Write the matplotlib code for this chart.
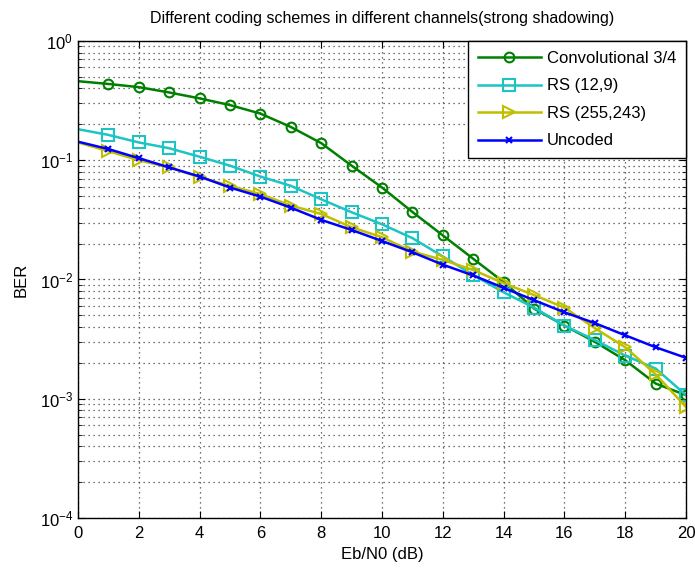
import matplotlib.pyplot as plt
import numpy as np

plt.rcParams['font.family'] = ['Liberation Sans', 'DejaVu Sans']

# Eb/N0 in dB
ebn0 = list(range(0, 21))

# BER
ber_conv = [0.46, 0.436, 0.41, 0.37, 0.33, 0.29, 0.246, 0.19, 0.139, 0.090, 0.059,
            0.0368, 0.0234, 0.0149, 0.0095, 0.0057, 0.0041, 0.0030, 0.0021, 0.00134, 0.00107]
ber_rs129 = [0.182, 0.163, 0.141, 0.126, 0.107, 0.090, 0.073, 0.061, 0.047, 0.0366, 0.029,
             0.0222, 0.0156, 0.0109, 0.0078, 0.0058, 0.0041, 0.0031, 0.0023, 0.00179, 0.00107]
ber_rs255 = [0.141, 0.119, 0.100, 0.087, 0.072, 0.061, 0.052, 0.0417, 0.0354, 0.0274, 0.0226,
             0.0171, 0.0146, 0.0120, 0.0093, 0.0074, 0.0058, 0.0039, 0.0027, 0.0016, 0.00085]
ber_uncoded = [0.143, 0.124, 0.104, 0.087, 0.073, 0.059, 0.0495, 0.040, 0.0316, 0.026, 0.021,
               0.0169, 0.0133, 0.0108, 0.0085, 0.0067, 0.0053, 0.0043, 0.0034, 0.0027, 0.0022]

labels = ['Convolutional 3/4', 'RS (12,9)', 'RS (255,243)', 'Uncoded']

fig = plt.figure(figsize=(6.95, 5.69), dpi=100)
ax = fig.add_axes([0.1122, 0.0897, 0.875, 0.8383])

skip = slice(1, None)
ax.semilogy(ebn0, ber_conv, '-o', color='#008000', lw=1.8, ms=7, mfc='none', mew=1.5,
            markevery=skip, label=labels[0])
ax.semilogy(ebn0, ber_rs129, '-s', color='#1cc4c4', lw=1.8, ms=8, mfc='none', mew=1.5,
            markevery=skip, label=labels[1])
ax.semilogy(ebn0, ber_rs255, '->', color='#bfbf00', lw=1.8, ms=8, mfc='none', mew=1.5,
            markevery=skip, label=labels[2])
ax.semilogy(ebn0, ber_uncoded, '-x', color='#0000ff', lw=1.8, ms=5, mew=1.5,
            markevery=skip, label=labels[3])

ax.set_xlim(0, 20)
ax.set_ylim(1e-4, 1)
ax.set_xticks(np.arange(0, 21, 2))
ax.tick_params(which='both', direction='in', top=True, right=True, labelsize=12)
ax.tick_params(axis='x', pad=6)
ax.tick_params(which='major', length=5)
ax.tick_params(which='minor', length=3)

dots = (0, (1, 3))
ax.grid(which='major', axis='both', linestyle=dots, color='#444444', lw=0.9)
ax.grid(which='minor', axis='y', linestyle=dots, color='#444444', lw=0.9)

for s in ax.spines.values():
    s.set_linewidth(1.0)

ax.set_title('Different coding schemes in different channels(strong shadowing)', fontsize=11.5, pad=13)
ax.set_xlabel('Eb/N0 (dB)', fontsize=12, labelpad=4)
ax.set_ylabel('BER', fontsize=12, labelpad=8)

leg = ax.legend(loc='upper right', fontsize=12, fancybox=False, framealpha=1,
                edgecolor='black', borderaxespad=0.0, handlelength=3.8,
                labelspacing=0.75, borderpad=0.6, handletextpad=0.35)
leg.get_frame().set_linewidth(1.0)

fig.savefig('out.png', dpi=100)
